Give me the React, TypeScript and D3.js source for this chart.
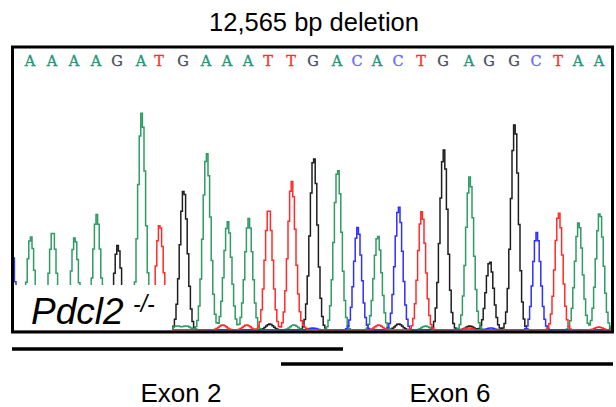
import React from "react";
import * as d3 from "d3";

// base calls and peak data
const bases = ["A", "A", "A", "A", "G", "A", "T", "G", "A", "A", "A", "T", "T", "G", "A", "C", "A", "C", "T", "G", "A", "G", "G", "C", "T", "A", "A"];
const peakPos = [30, 52, 74, 96, 117, 141, 159, 183, 206, 227, 248, 268, 291, 313, 337, 357, 377, 398, 421, 443, 469, 489, 514, 536, 558, 578, 599];
const peakHeight = [94, 99, 93, 116, 85, 218, 106, 141, 178, 109, 112, 122, 149, 174, 162, 103, 95, 124, 119, 181, 154, 69, 207, 98, 118, 108, 118];

// small background humps + peaks just outside the window
const extraBase = ["C", "G", "A", "A", "T", "T", "G", "A", "T", "C", "T", "G", "A", "G", "C", "T", "T"];
const extraPos = [10, 621, 176, 186, 222, 246, 269, 293, 300, 312, 378, 398, 425, 469, 490, 598, 468];
const extraHeight = [95, 100, 4, 4, 5, 5, 6, 5, 4, 2, 5, 6, 4, 4, 2, 3, 2];

const exonLabels = ["Exon 2", "Exon 6"];
const exonStart = [12, 281];
const exonEnd = [343, 613];
const exonLabelPos = [181, 450];

const title = "12,565 bp deletion";
const genotype = "Pdcl2";
const genotypeSup = "-/-";

const colors: Record<string, string> = { A: "#2e9b63", T: "#ff2b2b", G: "#1e1e1e", C: "#2f2fff" };
const letterColors: Record<string, string> = { A: "#22967a", T: "#ff2d2d", G: "#4a4e5c", C: "#6a6aff" };

const W = 616;
const H = 407;
const box = { x0: 12.5, x1: 612.5, y0: 47, y1: 332 };
const sigma = 3.8;

const App = () => {
  const x = d3.scaleLinear().domain([12, 613]).range([12, 613]);
  const y = d3.scaleLinear().domain([0, 218]).range([330, 113]);

  const traceFor = (b: string) => {
    const ps: [number, number][] = [];
    const all = [
      ...bases.map((bb, i) => ({ b: bb, p: peakPos[i], h: peakHeight[i] })),
      ...extraBase.map((bb, i) => ({ b: bb, p: extraPos[i], h: extraHeight[i] })),
    ].filter(d => d.b === b);
    for (let t = 0; t <= 625; t += 1.6) {
      let v = 0;
      all.forEach(d => {
        v += d.h * Math.exp(-((t - d.p) ** 2) / (2 * sigma * sigma));
      });
      ps.push([t, v]);
    }
    return ps;
  };

  const line = d3
    .line<[number, number]>()
    .x(d => x(d[0]))
    .y(d => y(d[1]))
    .curve(d3.curveStepAfter);

  const order = ["G", "A", "C", "T"];

  return (
    <svg width={W} height={H} style={{ position: "absolute", left: 0, top: 0 }}>
      <defs>
        <clipPath id="plot">
          <rect x={box.x0 + 1.5} y={box.y0 + 1.5} width={box.x1 - box.x0 - 3} height={box.y1 - box.y0 - 3} />
        </clipPath>
      </defs>
      <rect width={W} height={H} fill="white" />
      <text x={314} y={31} textAnchor="middle" fontFamily="Liberation Sans, Arial, sans-serif" fontSize={25.5}>
        {title}
      </text>

      <g clipPath="url(#plot)">
        {order.map(b => (
          <path key={b} d={line(traceFor(b)) || ""} fill="none" stroke={colors[b]} strokeWidth={1.5} />
        ))}
        <rect x={12} y={285} width={160} height={50} fill="white" />
      </g>

      {bases.map((b, i) => (
        <text
          key={i}
          x={x(peakPos[i])}
          y={65.5}
          textAnchor="middle"
          fontFamily="DejaVu Serif, serif"
          fontSize={14.5}
          fill={letterColors[b]}
          stroke={letterColors[b]}
          strokeWidth={0.35}
        >
          {b}
        </text>
      ))}

      <rect
        x={box.x0}
        y={box.y0}
        width={box.x1 - box.x0}
        height={box.y1 - box.y0}
        fill="none"
        stroke="black"
        strokeWidth={3}
      />

      <text x={31} y={324} fontFamily="Liberation Sans, Arial, sans-serif" fontStyle="italic" fontSize={37}>
        {genotype}
      </text>
      <text x={133} y={312} fontFamily="Liberation Sans, Arial, sans-serif" fontStyle="italic" fontSize={23}>
        {genotypeSup}
      </text>

      {exonLabels.map((l, i) => (
        <g key={l}>
          <line
            x1={x(exonStart[i])}
            x2={x(exonEnd[i])}
            y1={349 + i * 15}
            y2={349 + i * 15}
            stroke="black"
            strokeWidth={3.5}
          />
          <text
            x={x(exonLabelPos[i])}
            y={402}
            textAnchor="middle"
            fontFamily="Liberation Sans, Arial, sans-serif"
            fontSize={26}
          >
            {l}
          </text>
        </g>
      ))}
    </svg>
  );
};

export default App;
